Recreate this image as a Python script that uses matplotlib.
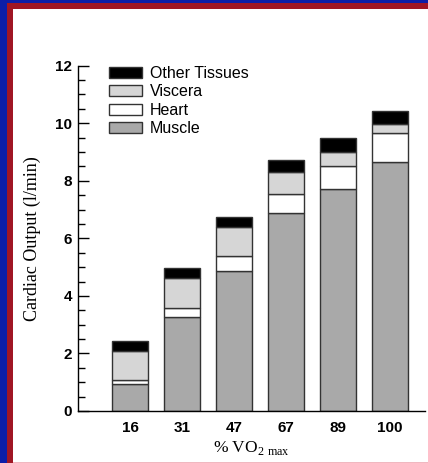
import numpy as np
import matplotlib
matplotlib.use("Agg")
import matplotlib.pyplot as plt
from matplotlib.patches import Rectangle, Patch

# data (l/min)
vo2_labels = ['16', '31', '47', '67', '89', '100']
muscle = [0.93, 3.28, 4.86, 6.87, 7.72, 8.65]
heart = [0.15, 0.30, 0.53, 0.68, 0.80, 1.00]
viscera = [1.02, 1.03, 0.99, 0.75, 0.49, 0.32]
other = [0.35, 0.35, 0.37, 0.43, 0.47, 0.45]

plt.rcParams['mathtext.fontset'] = 'custom'
plt.rcParams['mathtext.rm'] = 'Liberation Serif'

fig = plt.figure(figsize=(4.28, 4.63), dpi=100)
fig.patch.set_facecolor('#0c1ea8')

# slide frame: red strip along left/top, then white panel
W, H = 428.0, 463.0
fig.patches.append(Rectangle((7 / W, 0), 1 - 7 / W, 1 - 3 / H, transform=fig.transFigure,
                             facecolor='#a01624', edgecolor='none', zorder=-2))
fig.patches.append(Rectangle((13 / W, 0), 1 - 13 / W, 1 - 9 / H, transform=fig.transFigure,
                             facecolor='white', edgecolor='none', zorder=-1))
fig.patches.append(Rectangle((13 / W, 0), 1 - 13 / W, 1.5 / H, transform=fig.transFigure,
                             facecolor='#f0b8c0', edgecolor='none', zorder=-1))

ax = fig.add_axes([78 / W, 52 / H, 347 / W, 345.3 / H])
ax.set_facecolor('none')

x = np.arange(len(vo2_labels))
width = 0.69
ec = '#333333'
lw = 1.0

b1 = np.array(muscle)
b2 = b1 + np.array(heart)
b3 = b2 + np.array(viscera)
ax.bar(x, muscle, width, color='#a9a9a9', edgecolor=ec, linewidth=lw, label='Muscle')
ax.bar(x, heart, width, bottom=b1, color='white', edgecolor=ec, linewidth=lw, label='Heart')
ax.bar(x, viscera, width, bottom=b2, color='#d6d6d6', edgecolor=ec, linewidth=lw, label='Viscera')
ax.bar(x, other, width, bottom=b3, color='black', edgecolor=ec, linewidth=lw, label='Other Tissues')

ax.set_xlim(-1.0, 5.68)
ax.set_ylim(0, 12)
ax.set_xticks(x)
ax.set_xticklabels(vo2_labels)
ax.set_yticks(np.arange(0, 13, 2))
ax.set_yticks(np.arange(0, 12.1, 0.5), minor=True)

for s in ['top', 'right']:
    ax.spines[s].set_visible(False)
ax.spines['left'].set_linewidth(1.0)
ax.spines['bottom'].set_linewidth(1.0)

ax.tick_params(axis='y', which='major', direction='in', length=8, width=1, pad=4.5)
ax.tick_params(axis='y', which='minor', direction='in', length=5, width=1)
ax.tick_params(axis='x', which='both', length=0, pad=7)
for lab in ax.get_xticklabels() + ax.get_yticklabels():
    lab.set_fontfamily('Liberation Sans')
    lab.set_fontweight('bold')
    lab.set_fontsize(11)

ax.set_ylabel('Cardiac Output (l/min)', fontfamily='Liberation Serif', fontsize=13, labelpad=10)
ax.set_xlabel(r'% VO$_{\mathrm{2\ max}}$', fontfamily='Liberation Serif', fontsize=12.5, labelpad=3)

handles = [Patch(facecolor='black', edgecolor=ec, label='Other Tissues'),
           Patch(facecolor='#d6d6d6', edgecolor=ec, label='Viscera'),
           Patch(facecolor='white', edgecolor=ec, label='Heart'),
           Patch(facecolor='#a9a9a9', edgecolor=ec, label='Muscle')]
ax.legend(handles=handles, loc='upper left', bbox_to_anchor=(0.089, 1.0), frameon=False,
          borderpad=0, borderaxespad=0, handlelength=2.1, handleheight=0.7,
          handletextpad=0.45, labelspacing=0.22,
          prop={'family': 'Liberation Sans', 'size': 11.5})

fig.savefig('out.png', dpi=100, facecolor=fig.get_facecolor())
